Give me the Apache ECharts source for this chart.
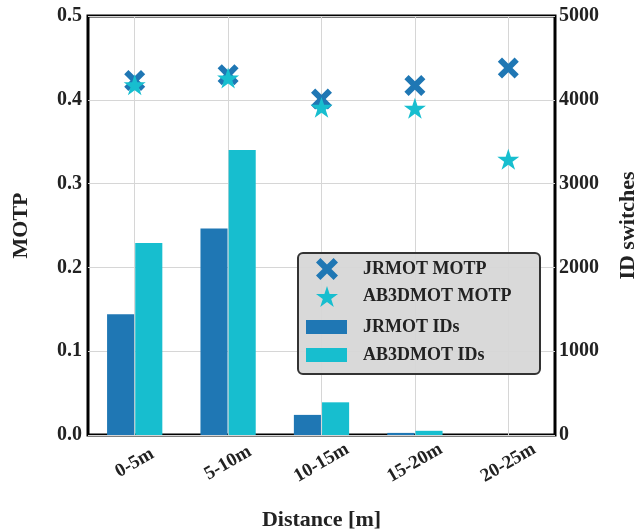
<!DOCTYPE html>
<html>
<head>
<meta charset="utf-8">
<script src="https://cdn.jsdelivr.net/npm/echarts@6/dist/echarts.min.js"></script>
<style>
  html, body { margin: 0; padding: 0; background: #fff; }
  #chart { width: 644px; height: 531px; }
</style>
</head>
<body>
<div id="chart"></div>
<script>
// 距离分段
var categories = ["0-5m", "5-10m", "10-15m", "15-20m", "20-25m"];
// MOTP（左轴）
var jrmotMotp = [0.423, 0.430, 0.401, 0.417, 0.438];
var ab3dMotp = [0.418, 0.426, 0.391, 0.390, 0.329];
// ID switches（右轴）
var jrmotIds = [1440, 2465, 240, 25, 0];
var ab3dIds = [2290, 3400, 390, 50, 0];
// 刻度
var motpTicks = [0, 0.1, 0.2, 0.3, 0.4, 0.5];
var idTicks = [0, 1000, 2000, 3000, 4000, 5000];

var dark = "#1f77b4";
var cyan = "#17becf";
var font = "Liberation Serif";
var xPath = "path://M0,2 L2,0 L5,3 L8,0 L10,2 L7,5 L10,8 L8,10 L5,7 L2,10 L0,8 L3,5 Z";
var starPath = "path://M50,0 L61.23,34.55 L97.55,34.55 L68.17,55.9 L79.39,90.45 L50,69.1 L20.61,90.45 L31.83,55.9 L2.45,34.55 L38.77,34.55 Z";

var labelStyle = { color: "#222", fontFamily: font, fontWeight: "bold", fontSize: 20 };
var nameStyle = { color: "#222", fontFamily: font, fontWeight: "bold", fontSize: 22 };

var myChart = echarts.init(document.getElementById("chart"));
var option = {
    animation: false,
    grid: {
        left: 88, right: 89, top: 16, bottom: 96,
        outerBoundsMode: "none",
        show: true, borderColor: "#000", borderWidth: 3, backgroundColor: "transparent"
    },
    xAxis: {
        type: "category",
        data: categories,
        name: "Distance [m]",
        nameLocation: "middle",
        nameGap: 74,
        nameTextStyle: nameStyle,
        axisLine: { show: false },
        axisTick: { show: false, alignWithLabel: true },
        splitLine: { show: true, alignWithLabel: true, lineStyle: { color: "#d6d6d6", width: 1 } },
        axisLabel: { rotate: 30, margin: 28, align: "center", verticalAlign: "middle", fontSize: 19,
            color: "#222", fontFamily: font, fontWeight: "bold" }
    },
    yAxis: [
        {
            type: "value",
            min: motpTicks[0], max: motpTicks[motpTicks.length - 1], interval: 0.1,
            name: "MOTP",
            nameLocation: "middle",
            nameGap: 56,
            nameTextStyle: nameStyle,
            axisLine: { show: false },
            axisTick: { show: false },
            splitLine: { show: true, lineStyle: { color: "#d6d6d6", width: 1 } },
            axisLabel: Object.assign({ margin: 6, formatter: function (v) { return v.toFixed(1); } }, labelStyle)
        },
        {
            type: "value",
            min: idTicks[0], max: idTicks[idTicks.length - 1], interval: 1000,
            name: "ID switches",
            nameLocation: "middle",
            nameGap: 62,
            nameRotate: 90,
            nameTextStyle: nameStyle,
            axisLine: { show: false },
            axisTick: { show: false },
            splitLine: { show: false },
            axisLabel: Object.assign({ margin: 4, formatter: function (v) { return String(v); } }, labelStyle)
        }
    ],
    legend: [
        {
            data: ["JRMOT MOTP", "AB3DMOT MOTP"],
            orient: "vertical",
            left: 311, top: 253, z: 10,
            itemWidth: 22, itemHeight: 22, itemGap: 6,
            textStyle: { color: "#222", fontFamily: font, fontWeight: "bold", fontSize: 18, padding: [0, 0, 0, 20] }
        },
        {
            data: ["JRMOT IDs", "AB3DMOT IDs"],
            orient: "vertical",
            icon: "rect",
            left: 301, top: 313, z: 10,
            itemWidth: 41, itemHeight: 14, itemGap: 10,
            textStyle: { color: "#222", fontFamily: font, fontWeight: "bold", fontSize: 18, padding: [0, 0, 0, 11] }
        }
    ],
    graphic: [
        {
            type: "rect",
            left: 297, top: 252, z: 5,
            shape: { width: 242, height: 121, r: 5 },
            style: { fill: "rgba(215,215,215,0.95)", stroke: "#333", lineWidth: 2 }
        }
    ],
    series: [
        {
            name: "JRMOT IDs",
            type: "bar",
            yAxisIndex: 1,
            data: jrmotIds,
            barWidth: "29%",
            barGap: "4%",
            itemStyle: { color: dark },
            z: 1
        },
        {
            name: "AB3DMOT IDs",
            type: "bar",
            yAxisIndex: 1,
            data: ab3dIds,
            barWidth: "29%",
            barGap: "4%",
            itemStyle: { color: cyan },
            z: 1
        },
        {
            name: "JRMOT MOTP",
            type: "scatter",
            yAxisIndex: 0,
            data: jrmotMotp,
            symbol: xPath,
            symbolSize: 21,
            symbolKeepAspect: true,
            itemStyle: { color: dark, opacity: 1 },
            z: 3
        },
        {
            name: "AB3DMOT MOTP",
            type: "scatter",
            yAxisIndex: 0,
            data: ab3dMotp,
            symbol: starPath,
            symbolSize: 22,
            symbolKeepAspect: true,
            itemStyle: { color: cyan, opacity: 1 },
            z: 4
        }
    ]
};
myChart.setOption(option);
</script>
</body>
</html>
